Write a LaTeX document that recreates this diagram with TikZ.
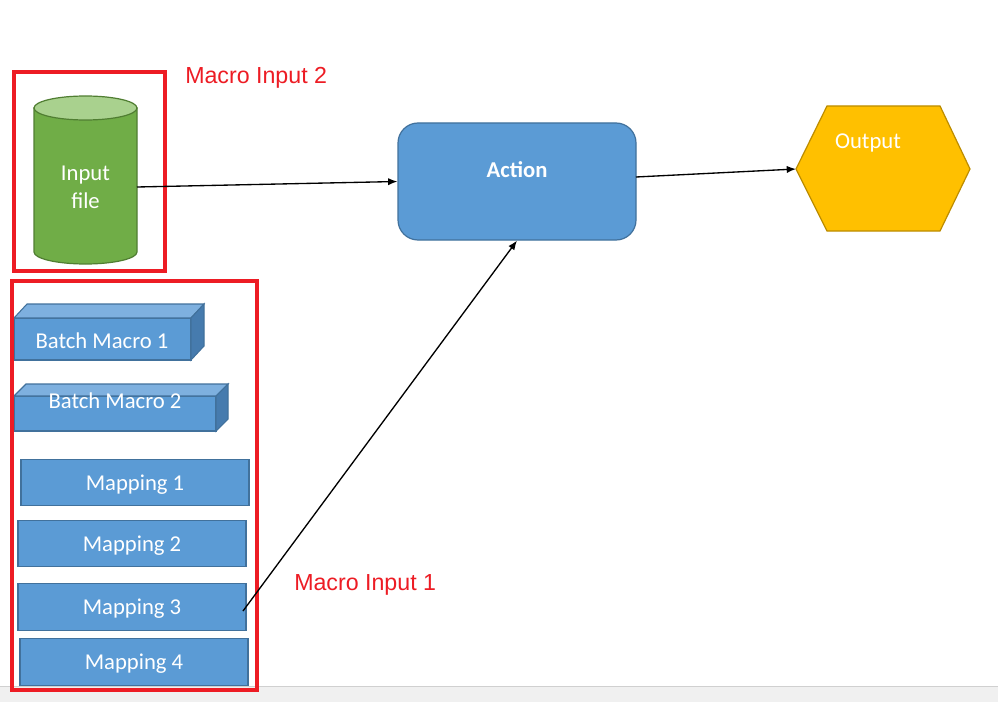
\documentclass[tikz,border=0pt]{standalone}
\usepackage{fontspec}
\setmainfont{Carlito}
\newfontfamily\arialf{Liberation Sans}
\usetikzlibrary{arrows.meta,calc}
\definecolor{boxblue}{HTML}{5B9BD5}
\definecolor{boxedge}{HTML}{41719C}
\definecolor{cubetop}{HTML}{7EB0DF}
\definecolor{cubeside}{HTML}{467BAE}
\definecolor{cylgreen}{HTML}{70AD47}
\definecolor{cyltop}{HTML}{A9D18E}
\definecolor{cyledge}{HTML}{507E32}
\definecolor{hexfill}{HTML}{FFC000}
\definecolor{hexedge}{HTML}{BC8C00}
\definecolor{macrored}{HTML}{ED1C24}
\definecolor{stripgray}{HTML}{F0F0F0}
\definecolor{stripline}{HTML}{D0D0D0}
\tikzset{
  boxtext/.style={text=white,font=\fontsize{17}{20}\selectfont,inner sep=0pt},
  mapbox/.style={draw=boxedge,fill=boxblue,line width=0.9pt,minimum width=171pt,minimum height=35pt,inner sep=0pt,text depth=0pt,text=white,font=\fontsize{17}{20}\selectfont},
  redframe/.style={draw=macrored,line width=2.6pt},
  redlabel/.style={text=macrored,font=\arialf\fontsize{17.4}{20}\selectfont,inner sep=0pt},
  conn/.style={draw=black,line width=1pt,-{Latex[length=7pt,width=5.5pt]}},
  cubeline/.style={draw=boxedge,line width=0.8pt}
}
\begin{document}
\begin{tikzpicture}[x=0.75pt,y=-0.75pt]
\useasboundingbox (0,0) rectangle (998,702);
\fill[white] (0,0) rectangle (998,702);
% bottom strip
\fill[stripgray] (0,686) rectangle (998,702);
\draw[stripline,line width=0.75pt] (0,686) -- (998,686);

% cylinder
\path[fill=cylgreen,draw=cyledge,line width=0.9pt] (34,108) -- (34,252) arc[start angle=180,end angle=0,x radius=51.5,y radius=12] -- (137,108) -- cycle;
\path[fill=cyltop,draw=cyledge,line width=0.9pt] (85.5,108) ellipse[x radius=51.5,y radius=12];
\node[boxtext,align=center] (input) at (85.5,187) {Input\\[1pt]file};
\coordinate (inputR) at (137,187);

% action
\node[draw=boxedge,fill=boxblue,line width=0.9pt,rounded corners=15pt,minimum width=178.5pt,minimum height=87.75pt] (action) at (517,181.5) {};
\node[boxtext,font=\fontsize{17}{20}\selectfont\bfseries] (actiontxt) at (517,169.5) {Action};
\coordinate (actionR) at (636,177);

% output hexagon
\path[fill=hexfill,draw=hexedge,line width=0.9pt] (796,169) -- (827,106) -- (940,106) -- (970,169) -- (940,231) -- (827,231) -- cycle;
\coordinate (outputL) at (796,169);
\node[boxtext] (output) at (868,143) {Output};

% batch macro 1
\path[fill=boxblue,cubeline] (14,318) rectangle (191,360);
\path[fill=cubetop,cubeline] (14,318) -- (27,304) -- (204,304) -- (191,318) -- cycle;
\path[fill=cubeside,cubeline] (191,318) -- (204,304) -- (204,346) -- (191,360) -- cycle;
\node[boxtext] (bm1) at (102,341) {Batch Macro 1};

% batch macro 2
\path[fill=boxblue,cubeline] (14,396) rectangle (216,431);
\path[fill=cubetop,cubeline] (14,396) -- (26,384) -- (228,384) -- (216,396) -- cycle;
\path[fill=cubeside,cubeline] (216,396) -- (228,384) -- (228,419) -- (216,431) -- cycle;
\node[boxtext] (bm2) at (115,401) {Batch Macro 2};

% mappings
\node[mapbox] (m1) at (135,482.5) {Mapping 1};
\node[mapbox] (m2) at (132,543.5) {Mapping 2};
\node[mapbox] (m3) at (132,607) {Mapping 3};
\node[mapbox] (m4) at (134,662) {Mapping 4};
\coordinate (m3R) at (243,611);

% red frames
\draw[redframe] (14,72) rectangle (165,271);
\draw[redframe] (12,281) rectangle (257,690);
\node[redlabel,anchor=west] (mi2) at (185,78) {Macro Input 2};
\node[redlabel,anchor=west] (mi1) at (294,585) {Macro Input 1};

% connectors
\draw[conn] (inputR) -- (action.west);
\draw[conn] (actionR) -- (outputL);
\draw[conn] (m3R) -- (action.south);
\end{tikzpicture}
\end{document}
